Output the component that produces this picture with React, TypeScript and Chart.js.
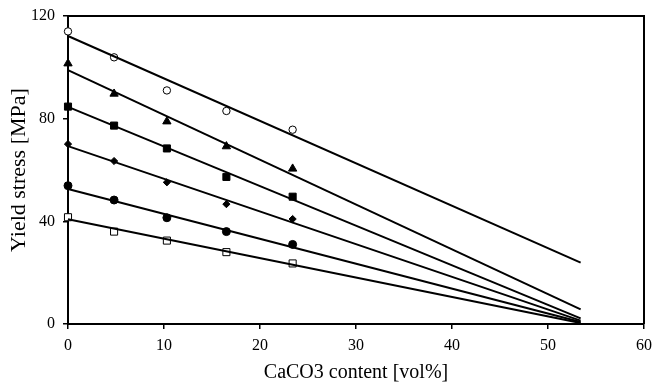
import React, { useEffect, useRef } from "react";
import { Chart, registerables } from "chart.js";

Chart.register(...registerables);

// CaCO3 content [vol%] of measured samples
const xContent = [0, 4.8, 10.3, 16.5, 23.4];

// Measured yield stress [MPa] per series
const openCircle = [114.0, 103.9, 91.0, 83.0, 75.7];
const filledTriangle = [101.5, 89.7, 78.9, 69.2, 60.5];
const filledSquare = [84.7, 77.3, 68.4, 57.3, 49.6];
const filledDiamond = [70.1, 63.5, 55.2, 46.7, 40.9];
const filledCircle = [53.9, 48.3, 41.4, 36.0, 31.0];
const openSquare = [41.6, 36.0, 32.5, 28.0, 23.6];

// Fitted lines (start/end)
const fitX = [0, 53.4];
const fitOpenCircle = [112.2, 23.9];
const fitTriangle = [98.9, 5.7];
const fitSquare = [84.6, 2.2];
const fitDiamond = [69.3, 1.3];
const fitCircle = [52.6, 0.8];
const fitOpenSquare = [40.8, 0.4];

const xTicks = [0, 10, 20, 30, 40, 50, 60];
const yTicks = [0, 40, 80, 120];

const FONT = "'Liberation Serif', 'Times New Roman', serif";

const pts = (ys: number[]) => ys.map((y, i) => ({ x: xContent[i], y }));
const fit = (ys: number[]) => ys.map((y, i) => ({ x: fitX[i], y }));

const frame = {
  id: "frame",
  afterDatasetsDraw(chart: any) {
    const { ctx, chartArea } = chart;
    ctx.save();
    ctx.strokeStyle = "#000";
    ctx.lineWidth = 2;
    ctx.beginPath();
    ctx.moveTo(chartArea.left, chartArea.top);
    ctx.lineTo(chartArea.right, chartArea.top);
    ctx.lineTo(chartArea.right, chartArea.bottom);
    ctx.stroke();
    ctx.restore();
  },
};

export default function App() {
  const ref = useRef<HTMLCanvasElement | null>(null);
  useEffect(() => {
    document.body.style.margin = "0";
    const lineDs = (ys: number[]) => ({
      type: "line" as const,
      data: fit(ys),
      borderColor: "#000",
      borderWidth: 2,
      pointRadius: 0,
      showLine: true,
      fill: false,
      tension: 0,
      clip: false,
    });
    const markDs = (ys: number[], style: string, filled: boolean, r: number) => ({
      type: "scatter" as const,
      data: pts(ys),
      pointStyle: style,
      pointRadius: r,
      pointBackgroundColor: filled ? "#000" : "#fff",
      pointBorderColor: "#000",
      pointBorderWidth: 1,
      showLine: false,
      clip: false,
    });
    const chart = new Chart(ref.current!, {
      type: "scatter",
      data: {
        datasets: [
          lineDs(fitOpenCircle),
          lineDs(fitTriangle),
          lineDs(fitSquare),
          lineDs(fitDiamond),
          lineDs(fitCircle),
          lineDs(fitOpenSquare),
          markDs(openCircle, "circle", false, 3.7),
          markDs(filledTriangle, "triangle", true, 4.8),
          markDs(filledSquare, "rect", true, 5),
          markDs(filledDiamond, "rectRot", true, 3.6),
          markDs(filledCircle, "circle", true, 4),
          markDs(openSquare, "rect", false, 5),
        ] as any,
      },
      options: {
        animation: false,
        responsive: false,
        maintainAspectRatio: false,
        layout: { padding: { left: 0, top: 16, right: 9, bottom: 0 } },
        plugins: { legend: { display: false }, tooltip: { enabled: false } },
        scales: {
          x: {
            type: "linear",
            min: 0,
            max: 60,
            afterBuildTicks: (axis: any) => {
              axis.ticks = xTicks.map((v) => ({ value: v }));
            },
            afterFit: (axis: any) => {
              axis.height = 58;
              axis.paddingLeft = 0;
              axis.paddingRight = 0;
            },
            grid: { display: true, drawOnChartArea: false, drawTicks: true, tickLength: 5, color: "#000", lineWidth: 1.5 },
            border: { display: true, color: "#000", width: 2 },
            ticks: { color: "#000", font: { family: FONT, size: 16 }, padding: 7, maxRotation: 0 },
            title: { display: true, text: "CaCO3 content [vol%]", color: "#000", font: { family: FONT, size: 20 }, padding: { top: 0, bottom: -3 } },
          },
          y: {
            type: "linear",
            min: 0,
            max: 120,
            afterBuildTicks: (axis: any) => {
              axis.ticks = yTicks.map((v) => ({ value: v }));
            },
            afterFit: (axis: any) => {
              axis.width = 68;
              axis.paddingTop = 0;
              axis.paddingBottom = 0;
            },
            grid: { display: true, drawOnChartArea: false, drawTicks: true, tickLength: 5, color: "#000", lineWidth: 1.5 },
            border: { display: true, color: "#000", width: 2 },
            ticks: { color: "#000", font: { family: FONT, size: 16 }, padding: 8 },
            title: { display: true, text: "Yield stress [MPa]", color: "#000", font: { family: FONT, size: 22 }, padding: { top: 6, bottom: 0 } },
          },
        },
      },
      plugins: [frame],
    });
    return () => chart.destroy();
  }, []);
  return (
    <div style={{ position: "absolute", left: 0, top: 0, width: 653, height: 382, background: "#fff" }}>
      <canvas ref={ref} width={653} height={382} style={{ display: "block" }} />
    </div>
  );
}
